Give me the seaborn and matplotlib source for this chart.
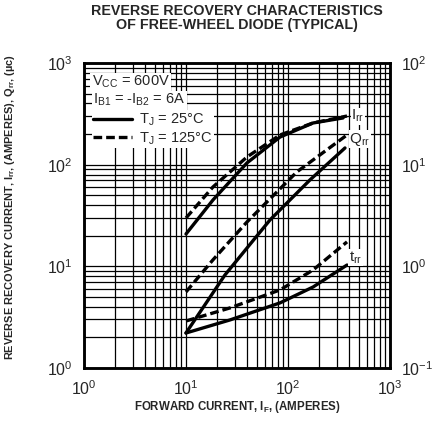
import numpy as np
import pandas as pd
import matplotlib
matplotlib.use('Agg')
import matplotlib.pyplot as plt
import seaborn as sns
from matplotlib.ticker import FixedLocator, LogLocator, NullFormatter
from matplotlib.lines import Line2D

# ---------------- data ----------------
if_irr_25 = [10, 18.4, 39.6, 83.5, 176, 346]
irr_25 = [20.8, 45, 104, 187, 257, 288]
if_irr_125 = [10, 18.4, 39.6, 83.5, 176, 379]
irr_125 = [29.9, 60.4, 119, 196, 257, 301]

if_qrr_25 = [10, 24.1, 66.6, 164, 362]
qrr_25 = [2.21, 8.23, 28.6, 70.7, 146]
if_qrr_125 = [10, 18.4, 39.6, 122, 379]
qrr_125 = [5.6, 11.6, 27.3, 84.8, 196]

if_trr = [10, 27, 83.5, 176, 379]
trr_25 = [0.221, 0.297, 0.437, 0.626, 1.03]
trr_125 = [0.29, 0.39, 0.586, 0.92, 1.74]

x_ticks = [1, 10, 100, 1000]
x_tick_labels = ['$10^0$', '$10^1$', '$10^2$', '$10^3$']
yl_ticks = [1, 10, 100, 1000]
yl_tick_labels = ['$10^0$', '$10^1$', '$10^2$', '$10^3$']
yr_ticks = [0.1, 1, 10, 100]
yr_tick_labels = ['$10^{-1}$', '$10^0$', '$10^1$', '$10^2$']

# ---------------- style ----------------
sns.set_style('white')
plt.rcParams['font.family'] = ['Liberation Sans', 'DejaVu Sans']
plt.rcParams['mathtext.fontset'] = 'custom'
plt.rcParams['mathtext.rm'] = 'Liberation Sans'
plt.rcParams['mathtext.it'] = 'Liberation Sans:italic'
plt.rcParams['mathtext.bf'] = 'Liberation Sans:bold'

fig = plt.figure(figsize=(4.45, 4.23), dpi=100)
ax = fig.add_axes([84/445, 1-368/423, (390-84)/445, (368-63)/423])
ax2 = ax.twinx()

ax.set_xscale('log'); ax.set_yscale('log'); ax2.set_yscale('log')
ax.set_xlim(1, 1000); ax.set_ylim(1, 1000); ax2.set_ylim(0.1, 100)

ax.set_xticks(x_ticks); ax.set_xticklabels(x_tick_labels)
ax.set_yticks(yl_ticks); ax.set_yticklabels(yl_tick_labels)
ax2.set_yticks(yr_ticks); ax2.set_yticklabels(yr_tick_labels)
ax.xaxis.set_minor_locator(LogLocator(base=10, subs=np.arange(2, 10)))
ax.yaxis.set_minor_locator(LogLocator(base=10, subs=np.arange(2, 10)))
ax.xaxis.set_minor_formatter(NullFormatter()); ax.yaxis.set_minor_formatter(NullFormatter())
ax2.yaxis.set_minor_locator(FixedLocator([])); ax2.yaxis.set_minor_formatter(NullFormatter())

ax.grid(True, which='both', color='black', linewidth=0.9)
ax.set_axisbelow(True)
ax.tick_params(which='both', length=0, labelsize=11.5, pad=8)
ax2.tick_params(which='both', length=0, labelsize=11.5, pad=8)
for a in (ax, ax2):
    for s in a.spines.values():
        s.set_linewidth(1.8); s.set_color('black')

lw = 2.4
dash = (0, (2.6, 1.2))
sns.lineplot(x=if_irr_25, y=irr_25, ax=ax, color='black', lw=lw, zorder=3)
sns.lineplot(x=if_irr_125, y=irr_125, ax=ax, color='black', lw=lw, linestyle=dash, zorder=3)
sns.lineplot(x=if_qrr_25, y=qrr_25, ax=ax, color='black', lw=lw, zorder=3)
sns.lineplot(x=if_qrr_125, y=qrr_125, ax=ax, color='black', lw=lw, linestyle=dash, zorder=3)
sns.lineplot(x=if_trr, y=trr_25, ax=ax2, color='black', lw=lw, zorder=3)
sns.lineplot(x=if_trr, y=trr_125, ax=ax2, color='black', lw=lw, linestyle=dash, zorder=3)

# curve labels
lab_kw = dict(fontsize=11, va='center', ha='left', zorder=5,
              bbox=dict(facecolor='white', edgecolor='none', pad=0.3))
ax.text(415, 300, r'I$_{\rm rr}$', **lab_kw)
ax.text(400, 178, r'Q$_{\rm rr}$', **lab_kw)
ax2.text(395, 1.22, r't$_{\rm rr}$', **lab_kw)

# conditions block
box = dict(facecolor='white', edgecolor='none', pad=1)
ax.text(0.025, 0.937, r'V$_{\rm CC}$ = 600V', transform=ax.transAxes, fontsize=10.5,
        va='center', ha='left', zorder=6, bbox=box)
ax.text(0.03, 0.878, r'I$_{\rm B1}$ = -I$_{\rm B2}$ = 6A', transform=ax.transAxes, fontsize=10.5,
        va='center', ha='left', zorder=6, bbox=box)
handles = [Line2D([], [], color='black', lw=lw),
           Line2D([], [], color='black', lw=lw, linestyle=dash)]
leg = ax.legend(handles, [r'T$_{\rm J}$ = 25°C', r'T$_{\rm J}$ = 125°C'],
                loc='upper left', bbox_to_anchor=(0.025, 0.845), fontsize=10.5,
                frameon=True, facecolor='white', edgecolor='none', framealpha=1,
                handlelength=2.7, handletextpad=0.45, labelspacing=0.15,
                borderpad=0.1, borderaxespad=0, fancybox=False)
leg.set_zorder(6)

fig.text(237/445, 1-18/423, 'REVERSE RECOVERY CHARACTERISTICS\nOF FREE-WHEEL DIODE (TYPICAL)',
         ha='center', va='center', fontsize=10.3, fontweight='bold', linespacing=1.0)
fig.text(237/445, 1-407/423, r'FORWARD CURRENT, $\mathbf{I_{F}}$, (AMPERES)',
         ha='center', va='center', fontsize=8.3, fontweight='bold')
fig.text(10/445, 1-207/423,
         r'REVERSE RECOVERY CURRENT, $\mathbf{I_{rr}}$, (AMPERES), $\mathbf{Q_{rr}}$, (µc)',
         ha='center', va='center', rotation=90, fontsize=7.9, fontweight='bold')

fig.savefig('out.png', dpi=100, facecolor='white')
